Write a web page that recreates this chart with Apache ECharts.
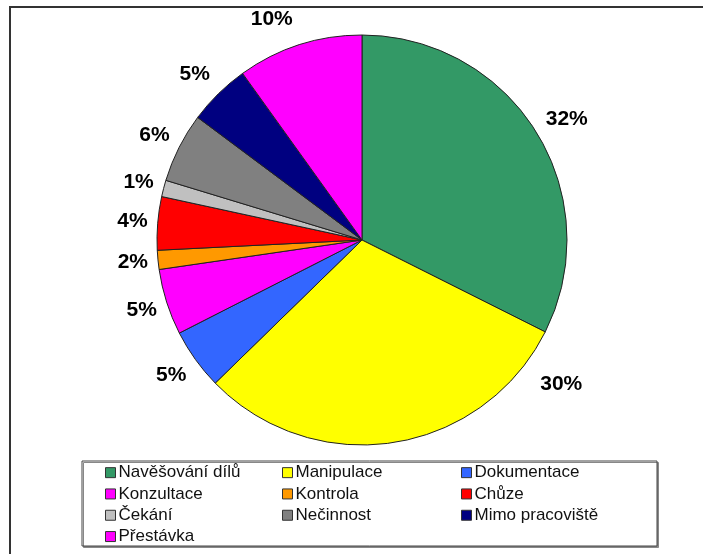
<!DOCTYPE html>
<html>
<head>
<meta charset="utf-8">
<script src="https://cdn.jsdelivr.net/npm/echarts@6/dist/echarts.min.js"></script>
<style>
html,body{margin:0;padding:0;background:#fff;}
#chart{width:703px;height:554px;}
</style>
</head>
<body>
<div id="chart"></div>
<script>
// Data
var categories = ['Navěšování dílů','Manipulace','Dokumentace','Konzultace','Kontrola','Chůze','Čekání','Nečinnost','Mimo pracoviště','Přestávka'];
var shares = [32.4, 30.3, 4.8, 5.2, 1.5, 4.2, 1.3, 5.5, 4.9, 9.9];
var colors = ['#339966','#FFFF00','#3366FF','#FF00FF','#FF9900','#FF0000','#C0C0C0','#808080','#000080','#FF00FF'];
var legendCol1 = ['Navěšování dílů','Konzultace','Čekání','Přestávka'];
var legendCol2 = ['Manipulace','Kontrola','Nečinnost'];
var legendCol3 = ['Dokumentace','Chůze','Mimo pracoviště'];

var CX = 362, CY = 240, R = 205;
var font = '"Liberation Sans", Arial, sans-serif';

var chart = echarts.init(document.getElementById('chart'), null, {renderer:'canvas'});

var pieData = categories.map(function(n,i){
  return {name:n, value:shares[i], itemStyle:{color:colors[i]}};
});

function legend(col, left){
  return {
    data: col, orient:'vertical', left:left, top:462,
    itemWidth:10, itemHeight:10, itemGap:0, icon:'rect',
    padding:0,
    itemStyle:{borderColor:'#333', borderWidth:1},
    textStyle:{fontFamily:font, fontSize:17, color:'#111', lineHeight:21.3, padding:[0,0,0,-2]},
    selectedMode:false
  };
}

chart.setOption({
  backgroundColor:'#fff',
  animation:false,
  graphic:[
    {type:'rect', shape:{x:10,y:7,width:800,height:700}, style:{fill:'none', stroke:'#333', lineWidth:2}, silent:true, z:-1},
    {type:'rect', shape:{x:82,y:461,width:575,height:85}, style:{fill:'#fff', stroke:'#444', lineWidth:1, shadowColor:'#888', shadowOffsetX:1.5, shadowOffsetY:1.5}, silent:true, z:-1}
  ],
  legend:[legend(legendCol1,105), legend(legendCol2,282), legend(legendCol3,461)],
  series:[{
    type:'pie',
    center:[CX,CY],
    radius:R,
    startAngle:90,
    clockwise:true,
    avoidLabelOverlap:false,
    data:pieData,
    itemStyle:{borderColor:'#222', borderWidth:1},
    emphasis:{disabled:true},
    label:{
      show:true, position:'outside',
      formatter:function(p){return Math.round(p.percent)+'%';},
      fontFamily:font, fontSize:21, fontWeight:'bold', color:'#000'
    },
    labelLine:{show:false, length:5, length2:0},
    labelLayout:function(p){
      var r = p.labelRect;
      var mx = r.x + r.width/2, my = r.y + r.height/2;
      var dx = mx - CX, dy = my - CY;
      var L = Math.sqrt(dx*dx+dy*dy);
      var res = {dy: (dy/L) * r.height * 1.1};
      if (p.dataIndex === 1) { res = {dx: 141, dy: -63}; }
      return res;
    }
  }]
});
</script>
</body>
</html>
